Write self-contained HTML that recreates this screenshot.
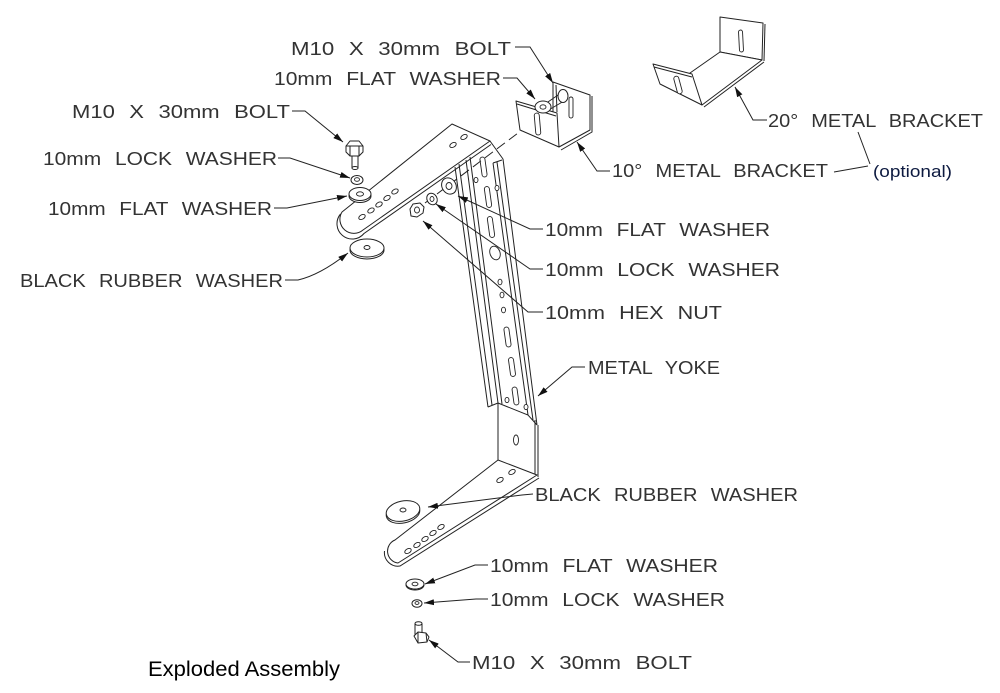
<!DOCTYPE html>
<html><head><meta charset="utf-8"><style>
html,body{margin:0;padding:0;background:#fff;}
svg{display:block;}
.t{font-family:"Liberation Sans",Arial,sans-serif;font-size:18.5px;fill:#333;word-spacing:7px;}
.d{fill:#fff;stroke:#222;stroke-width:1;stroke-linejoin:round;}
.l{fill:none;stroke:#222;stroke-width:1;}
.ld{fill:none;stroke:#222;stroke-width:1;marker-end:url(#a);}
.h{fill:#fff;stroke:#222;stroke-width:0.9;}
</style></head><body>
<svg width="1000" height="693" viewBox="0 0 1000 693" xmlns="http://www.w3.org/2000/svg">
<defs>
<marker id="a" viewBox="0 0 10 6" refX="10" refY="3" markerWidth="10" markerHeight="6" markerUnits="userSpaceOnUse" orient="auto"><path d="M0,0 L10,3 L0,6 z" fill="#111"/></marker>
</defs>

<!-- ===== Upper arm ===== -->
<path class="d" d="M452,124 L490,141 L363,230 A14,14 0 0 1 342,212 Z"/>
<path class="l" d="M491,144.5 L364,233.5 A15,15 0 0 1 340.5,214"/>
<g class="h">
<ellipse cx="453" cy="145" rx="3.5" ry="2.2" transform="rotate(-30 453 145)"/>
<ellipse cx="464" cy="137" rx="3.5" ry="2.2" transform="rotate(-30 464 137)"/>
<ellipse cx="362" cy="217" rx="3.5" ry="2.2" transform="rotate(-30 362 217)"/>
<ellipse cx="371" cy="210.5" rx="3.5" ry="2.2" transform="rotate(-30 371 210.5)"/>
<ellipse cx="379" cy="204.5" rx="3.5" ry="2.2" transform="rotate(-30 379 204.5)"/>
<ellipse cx="387" cy="198" rx="3.5" ry="2.2" transform="rotate(-30 387 198)"/>
<ellipse cx="395" cy="191.5" rx="3.5" ry="2.2" transform="rotate(-30 395 191.5)"/>
</g>

<!-- ===== Vertical channel ===== -->
<path class="l" d="M455,167 L488,407 M459,164 L492,405 M466,160 L498,403 M470,157 L502,404
M493,163 L528,415 M497,162 L533,420 M503,159 L537,425
M490,141 L503,159 M493,163 L502,160
M488,407 L498,403 M498,403 L528,415 L537,425"/>
<g class="h">
<rect x="481" y="157" width="5" height="20" rx="2.5" transform="rotate(-8 483.5 167)"/>
<rect x="485.5" y="186.5" width="5" height="21" rx="2.5" transform="rotate(-8 488 197)"/>
<rect x="488.5" y="216.5" width="5" height="21" rx="2.5" transform="rotate(-8 491 227)"/>
<ellipse cx="495" cy="253" rx="5" ry="7" transform="rotate(-20 495 253)"/>
<ellipse cx="500" cy="282" rx="2" ry="2.8"/>
<ellipse cx="502" cy="295" rx="2" ry="2.8"/>
<ellipse cx="503.5" cy="310" rx="2" ry="2.8"/>
<rect x="505" y="327" width="5" height="20" rx="2.5" transform="rotate(-8 507.5 337)"/>
<rect x="509.5" y="357.5" width="5" height="19" rx="2.5" transform="rotate(-8 512 367)"/>
<rect x="513" y="387" width="5" height="18" rx="2.5" transform="rotate(-8 515.5 396)"/>
<ellipse cx="476" cy="180" rx="2" ry="2.6"/>
<ellipse cx="497" cy="188" rx="2" ry="2.6"/>
<ellipse cx="507" cy="400" rx="2" ry="2.6"/>
<ellipse cx="526" cy="407" rx="2" ry="2.6"/>
</g>

<!-- lower vertical plate -->
<path class="l" d="M498,403 L498,460 M535,420 L535,475 M538,425 L538,477"/>
<ellipse class="h" cx="516" cy="440" rx="2.5" ry="5"/>

<!-- ===== Lower arm ===== -->
<path class="d" d="M498,460 L537,475 L398,563 A12,12 0 0 1 395,540 Z"/>
<path class="l" d="M539,478 L400,566 A13.5,13.5 0 0 1 384.5,551"/>
<g class="h">
<ellipse cx="500" cy="480" rx="3.5" ry="2.2" transform="rotate(-30 500 480)"/>
<ellipse cx="512" cy="472" rx="3.5" ry="2.2" transform="rotate(-30 512 472)"/>
<ellipse cx="408" cy="551" rx="3.5" ry="2.2" transform="rotate(-30 408 551)"/>
<ellipse cx="417" cy="545" rx="3.5" ry="2.2" transform="rotate(-30 417 545)"/>
<ellipse cx="425" cy="539" rx="3.5" ry="2.2" transform="rotate(-30 425 539)"/>
<ellipse cx="433" cy="533" rx="3.5" ry="2.2" transform="rotate(-30 433 533)"/>
<ellipse cx="441" cy="527" rx="3.5" ry="2.2" transform="rotate(-30 441 527)"/>
</g>

<!-- lower rubber washer -->
<ellipse class="d" cx="403" cy="513" rx="17" ry="10" transform="rotate(-12 403 513)"/>
<ellipse class="d" cx="403" cy="511" rx="17" ry="10" transform="rotate(-12 403 511)"/>
<ellipse class="h" cx="403" cy="510" rx="3" ry="2"/>

<!-- lower flat washer / lock washer / bolt -->
<ellipse class="d" cx="415" cy="585" rx="9" ry="5"/>
<ellipse class="d" cx="415" cy="584" rx="9" ry="5"/>
<ellipse class="h" cx="415" cy="584" rx="3" ry="1.8"/>
<ellipse class="d" cx="417" cy="603.5" rx="5" ry="3.8"/>
<ellipse class="h" cx="417" cy="603" rx="2" ry="1.4"/>
<path class="d" d="M415,624 L415,636 L422,636 L422,624 Z"/>
<ellipse class="d" cx="418.5" cy="623.5" rx="3.5" ry="1.8"/>
<path class="d" d="M414,636 L418,632 L426,633 L429,637 L427,642 L418,643 Z"/>
<path class="l" d="M418,632 L418,643 M426,633 L427,642"/>

<!-- ===== Upper-left hardware ===== -->
<path class="d" d="M352,156 L352,168 L358,168 L358,156 Z"/>
<ellipse class="d" cx="355" cy="168" rx="3" ry="1.5"/>
<path class="d" d="M346,146 L350,141 L359,141 L363,146 L363,152 L359,156 L350,156 L346,152 Z"/>
<path class="l" d="M346,146 L363,146 M350,146 L350,156 M359,146 L359,156"/>
<ellipse class="d" cx="357" cy="180" rx="6" ry="4.5"/>
<ellipse class="h" cx="357" cy="179.5" rx="2.5" ry="1.8"/>
<ellipse class="d" cx="360" cy="196" rx="11" ry="6.5"/>
<ellipse class="d" cx="360" cy="194" rx="11" ry="6.5"/>
<ellipse class="h" cx="360" cy="194" rx="3.5" ry="2.2"/>
<ellipse class="d" cx="367" cy="250" rx="17" ry="9"/>
<ellipse class="d" cx="367" cy="248" rx="17" ry="9"/>
<ellipse class="h" cx="367" cy="247.5" rx="3" ry="2"/>

<!-- ===== dashed axis + upper-right hardware ===== -->
<path class="l" d="M413,212 L530,124" stroke-dasharray="10,5"/>
<ellipse class="d" cx="449" cy="186" rx="7" ry="8.5" transform="rotate(-30 449 186)"/>
<ellipse class="h" cx="449" cy="186" rx="3" ry="3.5"/>
<ellipse class="d" cx="432" cy="199" rx="5" ry="6" transform="rotate(-30 432 199)"/>
<ellipse class="h" cx="432" cy="199" rx="2" ry="2.5"/>
<path class="d" d="M410,209 L413,204 L420,203 L424,207 L423,213 L417,217 L411,216 Z"/>
<ellipse class="h" cx="417" cy="210" rx="2.5" ry="3"/>

<!-- ===== 10° bracket ===== -->
<path class="d" d="M553,82 L590,95 L590,130 L559,147 L553,112 Z"/>
<path class="l" d="M592,96 L592,132 L561,150 M556,85 L557,112"/>
<rect class="h" x="569" y="97" width="4" height="21" rx="2"/>
<path class="l" d="M561,93 L545,104 M564,101 L547,111"/>
<ellipse class="d" cx="563" cy="96" rx="5" ry="6.5"/>
<path class="d" d="M516,101 L557,113 L559,147 L520,130 Z"/>
<path class="l" d="M517,104 L556,116"/>
<rect class="h" x="535" y="113" width="5" height="22" rx="2.5" transform="rotate(-5 537.5 124)"/>
<ellipse class="d" cx="543" cy="107" rx="8" ry="6"/>
<ellipse class="h" cx="543" cy="107" rx="3" ry="2.2"/>

<!-- ===== 20° bracket ===== -->
<path class="d" d="M720,17 L763,23 L762,60 L720,52 Z"/>
<path class="l" d="M765,24 L764,61"/>
<rect class="h" x="739" y="30" width="4" height="22" rx="2" transform="rotate(-3 741 41)"/>
<path class="d" d="M720,52 L762,60 L702,105 L690,73 Z"/>
<path class="l" d="M764,62 L704,107"/>
<path class="d" d="M653,64 L692,74 L702,105 L660,84 Z"/>
<path class="l" d="M654,67 L692,77"/>
<rect class="h" x="675.5" y="76" width="5" height="18" rx="2.5" transform="rotate(-15 678 85)"/>

<!-- ===== Leaders ===== -->
<polyline class="ld" points="515,47 530,47 553,83"/>
<polyline class="ld" points="503,78 517,78 535,99"/>
<polyline class="ld" points="292,111 305,111 343,142"/>
<polyline class="ld" points="278,158 290,158 350,178"/>
<polyline class="ld" points="274,208 287,208 347,196"/>
<path class="ld" d="M285,280 L298,280 Q320,275 348,253"/>
<polyline class="ld" points="543,229 530,229 458,196"/>
<polyline class="ld" points="543,269 530,269 436,204"/>
<polyline class="ld" points="543,312 528,312 423,221"/>
<polyline class="ld" points="585,367 572,367 538,396"/>
<polyline class="ld" points="610,171 597,171 577,142"/>
<polyline class="ld" points="767,120 753,120 735,87"/>
<polyline class="ld" points="533,494 522,495 428,507"/>
<polyline class="ld" points="488,565 475,565 425,584"/>
<polyline class="ld" points="488,599 476,599 424,603"/>
<polyline class="ld" points="470,662 458,662 429,640"/>
<path class="l" d="M834,172 L868,166 M858,132 L870,164"/>

<!-- ===== Labels ===== -->
<text class="t" x="291" y="55" textLength="220" lengthAdjust="spacingAndGlyphs">M10 X 30mm BOLT</text>
<text class="t" x="274" y="85" textLength="227" lengthAdjust="spacingAndGlyphs">10mm FLAT WASHER</text>
<text class="t" x="72" y="118" textLength="218" lengthAdjust="spacingAndGlyphs">M10 X 30mm BOLT</text>
<text class="t" x="43" y="165" textLength="234" lengthAdjust="spacingAndGlyphs">10mm LOCK WASHER</text>
<text class="t" x="48" y="215" textLength="224" lengthAdjust="spacingAndGlyphs">10mm FLAT WASHER</text>
<text class="t" x="20" y="287" textLength="263" lengthAdjust="spacingAndGlyphs">BLACK RUBBER WASHER</text>
<text class="t" x="768" y="127" textLength="215" lengthAdjust="spacingAndGlyphs">20° METAL BRACKET</text>
<text class="t" x="612" y="177" textLength="216" lengthAdjust="spacingAndGlyphs">10° METAL BRACKET</text>
<text x="873" y="177" textLength="79" lengthAdjust="spacingAndGlyphs" style="font-family:'Liberation Sans',Arial,sans-serif;font-size:17px;fill:#0d1a40;">(optional)</text>
<text class="t" x="545" y="236" textLength="225" lengthAdjust="spacingAndGlyphs">10mm FLAT WASHER</text>
<text class="t" x="545" y="276" textLength="235" lengthAdjust="spacingAndGlyphs">10mm LOCK WASHER</text>
<text class="t" x="545" y="319" textLength="177" lengthAdjust="spacingAndGlyphs">10mm HEX NUT</text>
<text class="t" x="588" y="374" textLength="132" lengthAdjust="spacingAndGlyphs">METAL YOKE</text>
<text class="t" x="535" y="501" textLength="263" lengthAdjust="spacingAndGlyphs">BLACK RUBBER WASHER</text>
<text class="t" x="490" y="572" textLength="228" lengthAdjust="spacingAndGlyphs">10mm FLAT WASHER</text>
<text class="t" x="490" y="606" textLength="235" lengthAdjust="spacingAndGlyphs">10mm LOCK WASHER</text>
<text class="t" x="472" y="669" textLength="220" lengthAdjust="spacingAndGlyphs">M10 X 30mm BOLT</text>
<text x="148" y="676" textLength="192" lengthAdjust="spacingAndGlyphs" style="font-family:'Liberation Sans',Arial,sans-serif;font-size:21px;fill:#000;">Exploded Assembly</text>
</svg>
</body></html>
